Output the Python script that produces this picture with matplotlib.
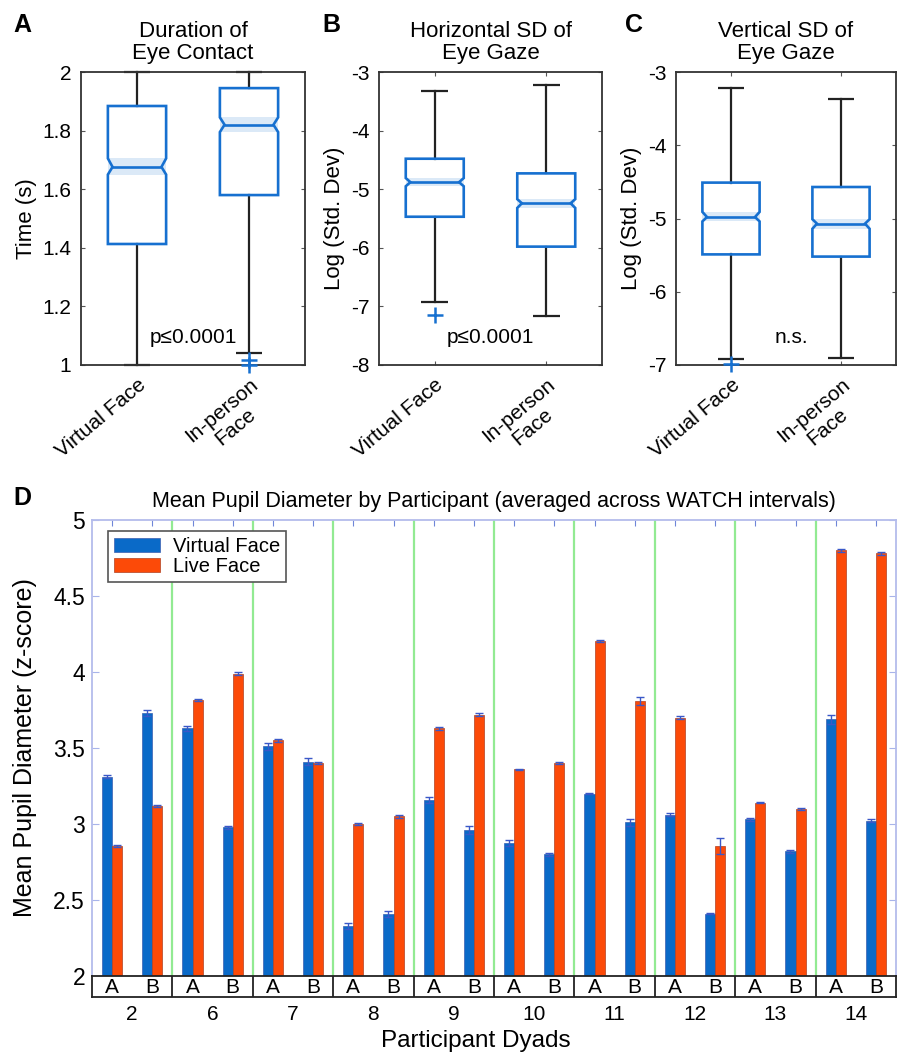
import matplotlib
matplotlib.use('Agg')
import matplotlib.pyplot as plt
from matplotlib.patches import Polygon, Rectangle

plt.rcParams['font.family'] = ['Liberation Sans', 'DejaVu Sans']
plt.rcParams['axes.unicode_minus'] = False

# ---------------- data ----------------
box_labels = ['Virtual Face', 'In-person\nFace']

# Panel A: duration of eye contact (s)
dur_whislo = [1.00, 1.04]
dur_q1 = [1.413, 1.58]
dur_med = [1.676, 1.82]
dur_q3 = [1.884, 1.945]
dur_whishi = [2.00, 2.00]
dur_cilo = [1.65, 1.795]
dur_cihi = [1.705, 1.845]
dur_fliers = [[], [1.0, 1.018]]

# Panel B: horizontal SD of eye gaze (log)
hsd_whislo = [-6.92, -7.16]
hsd_q1 = [-5.47, -5.98]
hsd_med = [-4.88, -5.24]
hsd_q3 = [-4.48, -4.73]
hsd_whishi = [-3.32, -3.22]
hsd_cilo = [-4.95, -5.32]
hsd_cihi = [-4.81, -5.17]
hsd_fliers = [[-7.15], []]

# Panel C: vertical SD of eye gaze (log)
vsd_whislo = [-6.92, -6.90]
vsd_q1 = [-5.49, -5.52]
vsd_med = [-4.98, -5.07]
vsd_q3 = [-4.51, -4.57]
vsd_whishi = [-3.22, -3.37]
vsd_cilo = [-5.04, -5.14]
vsd_cihi = [-4.91, -5.01]
vsd_fliers = [[-6.98], []]

# Panel D: mean pupil diameter
dyads = ['2', '6', '7', '8', '9', '10', '11', '12', '13', '14']
members = ['A', 'B']
virtual_mean = [3.31, 3.73, 3.63, 2.98, 3.51, 3.41, 2.33, 2.41, 3.16, 2.96,
                2.875, 2.80, 3.20, 3.01, 3.06, 2.41, 3.03, 2.82, 3.69, 3.02]
live_mean = [2.855, 3.12, 3.815, 3.99, 3.55, 3.40, 3.00, 3.05, 3.63, 3.72,
             3.36, 3.40, 4.205, 3.81, 3.70, 2.855, 3.14, 3.10, 4.80, 4.78]
virtual_err = [0.01, 0.02, 0.015, 0.01, 0.02, 0.025, 0.02, 0.02, 0.02, 0.025,
               0.02, 0.01, 0.005, 0.02, 0.01, 0.005, 0.01, 0.01, 0.03, 0.01]
live_err = [0.005, 0.005, 0.005, 0.01, 0.01, 0.005, 0.005, 0.01, 0.01, 0.01,
            0.005, 0.005, 0.005, 0.025, 0.01, 0.055, 0.005, 0.005, 0.01, 0.01]

# ---------------- style ----------------
BOX_BLUE = '#1670d0'
BAND = '#dbe9f7'
WHISK = '#222222'
BAR_BLUE = '#0a6ac8'
BAR_ORANGE = '#fc4a08'
GREEN = '#92ea92'
SPINE_D = '#b4bcec'

W, H = 899, 1053
fig = plt.figure(figsize=(W / 100, H / 100), dpi=100)


def px_axes(x0, y0, x1, y1):
    return fig.add_axes([x0 / W, 1 - y1 / H, (x1 - x0) / W, (y1 - y0) / H])


def notched_boxes(ax, whislo, q1, med, q3, whishi, cilo, cihi, fliers):
    width = 0.52
    hw = width / 2
    d = 0.08 * width
    cw = 0.12
    for i in range(len(med)):
        x = i + 1
        # light band around the median notch
        ax.add_patch(Rectangle((x - hw, cilo[i]), width, cihi[i] - cilo[i],
                               facecolor=BAND, edgecolor='none', zorder=1))
        # whiskers and caps
        ax.plot([x, x], [q3[i], whishi[i]], color=WHISK, lw=1.6, zorder=2,
                clip_on=False)
        ax.plot([x, x], [q1[i], whislo[i]], color=WHISK, lw=1.6, zorder=2,
                clip_on=False)
        ax.plot([x - cw, x + cw], [whishi[i], whishi[i]], color=WHISK, lw=1.6,
                zorder=2, clip_on=False, solid_capstyle='butt')
        ax.plot([x - cw, x + cw], [whislo[i], whislo[i]], color=WHISK, lw=1.6,
                zorder=2, clip_on=False, solid_capstyle='butt')
        pts = [(x - hw, q1[i]), (x - hw, cilo[i]), (x - hw + d, med[i]),
               (x - hw, cihi[i]), (x - hw, q3[i]), (x + hw, q3[i]),
               (x + hw, cihi[i]), (x + hw - d, med[i]), (x + hw, cilo[i]),
               (x + hw, q1[i])]
        ax.add_patch(Polygon(pts, closed=True, facecolor='none',
                             edgecolor=BOX_BLUE, lw=1.9, zorder=3))
        ax.plot([x - hw + d, x + hw - d], [med[i], med[i]], color=BOX_BLUE,
                lw=1.9, zorder=3)
        if fliers[i]:
            ax.plot([x] * len(fliers[i]), fliers[i], '+', color=BOX_BLUE,
                    ms=12, mew=1.8, zorder=4, clip_on=False)


def style_box_axes(ax, ylim, yticks, title, ylabel):
    ax.set_xlim(0.5, 2.5)
    ax.set_ylim(*ylim)
    ax.set_yticks(yticks)
    ax.set_yticklabels([('%g' % t) for t in yticks], fontsize=15)
    ax.set_xticks([1, 2])
    ax.set_xticklabels(box_labels, fontsize=15, rotation=40, ha='right',
                       rotation_mode='anchor', multialignment='center')
    ax.tick_params(axis='both', direction='in', length=3, width=0.8,
                   top=True, right=True, color='#555555', pad=7)
    for s in ax.spines.values():
        s.set_color('#333333')
        s.set_linewidth(1.3)
    ax.set_title(title, fontsize=16, pad=9, linespacing=1.1)
    ax.set_ylabel(ylabel, fontsize=16, labelpad=4)


# Panel A
axA = px_axes(81, 72, 305, 365)
notched_boxes(axA, dur_whislo, dur_q1, dur_med, dur_q3, dur_whishi,
              dur_cilo, dur_cihi, dur_fliers)
style_box_axes(axA, (1, 2), [1, 1.2, 1.4, 1.6, 1.8, 2],
               'Duration of\nEye Contact', 'Time (s)')
axA.text(1.5, 1.095, 'p≤0.0001', ha='center', va='center', fontsize=15)

# Panel B
axB = px_axes(379, 72, 602, 365)
notched_boxes(axB, hsd_whislo, hsd_q1, hsd_med, hsd_q3, hsd_whishi,
              hsd_cilo, hsd_cihi, hsd_fliers)
style_box_axes(axB, (-8, -3), [-8, -7, -6, -5, -4, -3],
               'Horizontal SD of\nEye Gaze', 'Log (Std. Dev)')
axB.text(1.5, -7.53, 'p≤0.0001', ha='center', va='center', fontsize=15)

# Panel C
axC = px_axes(676, 72, 896, 365)
notched_boxes(axC, vsd_whislo, vsd_q1, vsd_med, vsd_q3, vsd_whishi,
              vsd_cilo, vsd_cihi, vsd_fliers)
style_box_axes(axC, (-7, -3), [-7, -6, -5, -4, -3],
               'Vertical SD of\nEye Gaze', 'Log (Std. Dev)')
axC.text(1.55, -6.63, 'n.s.', ha='center', va='center', fontsize=15)

# Panel D
axD = px_axes(92, 520, 896, 976)
n = len(virtual_mean)
pos = list(range(n))
bw = 0.25
axD.bar([p - bw / 2 for p in pos], [v - 2 for v in virtual_mean], bottom=2,
        width=bw, color=BAR_BLUE, edgecolor='#3a5fb0', lw=0.5,
        label='Virtual Face', zorder=3)
axD.bar([p + bw / 2 for p in pos], [v - 2 for v in live_mean], bottom=2,
        width=bw, color=BAR_ORANGE, edgecolor='#b04020', lw=0.5,
        label='Live Face', zorder=3)
axD.errorbar([p - bw / 2 for p in pos], virtual_mean, yerr=virtual_err,
             fmt='none', ecolor='#3a58c8', elinewidth=1, capsize=3, zorder=4)
axD.errorbar([p + bw / 2 for p in pos], live_mean, yerr=live_err,
             fmt='none', ecolor='#3a58c8', elinewidth=1, capsize=3, zorder=4)
for b in range(1, len(dyads)):
    axD.axvline(2 * b - 0.5, color=GREEN, lw=1.6, zorder=1)
axD.set_xlim(-0.5, n - 0.5)
axD.set_ylim(2, 5)
axD.set_yticks([2, 2.5, 3, 3.5, 4, 4.5, 5])
axD.set_yticklabels(['2', '2.5', '3', '3.5', '4', '4.5', '5'], fontsize=16.5)
axD.set_xticks(pos)
axD.tick_params(axis='x', bottom=False, labelbottom=False, top=True,
                direction='in', length=4, color='#6f86d8')
axD.tick_params(axis='y', direction='in', length=5, right=True,
                color='#a8b4ea', pad=5)
for k, s in axD.spines.items():
    s.set_color(SPINE_D)
    s.set_linewidth(1.3)
axD.spines['bottom'].set_visible(False)
axD.set_title('Mean Pupil Diameter by Participant (averaged across WATCH intervals)',
              fontsize=15.5, pad=9)
axD.set_ylabel('Mean Pupil Diameter (z-score)', fontsize=18, labelpad=12)
leg = axD.legend(loc='upper left', bbox_to_anchor=(0.02, 0.975),
                 borderaxespad=0, fontsize=14.5, fancybox=False,
                 edgecolor='#555555', framealpha=1, handlelength=2.3,
                 handleheight=0.7, labelspacing=0.02, borderpad=0.3,
                 handletextpad=0.6)
leg.get_frame().set_linewidth(1.2)

# A/B member row and dyad labels
axAB = px_axes(92, 976, 896, 997)
axAB.set_xlim(-0.5, n - 0.5)
axAB.set_ylim(0, 1)
for i in range(n):
    axAB.text(i, 0.45, members[i % 2], ha='center', va='center', fontsize=15)
for b in range(1, len(dyads)):
    axAB.axvline(2 * b - 0.5, color='#222222', lw=1.3)
axAB.set_yticks([])
axAB.set_xticks([2 * j + 0.5 for j in range(len(dyads))])
axAB.set_xticklabels(dyads, fontsize=15)
axAB.tick_params(axis='x', length=0, pad=6)
for s in axAB.spines.values():
    s.set_color('#222222')
    s.set_linewidth(1.3)
axAB.set_xlabel('Participant Dyads', fontsize=17.5, labelpad=6)
axAB.xaxis.set_label_coords(0.478, -1.55)

# panel letters
for lbl, x, y in [('A', 13, 32), ('B', 322, 32), ('C', 625, 32), ('D', 13, 505)]:
    fig.text(x / W, 1 - y / H, lbl, fontsize=18, fontweight='bold',
             ha='left', va='baseline')

fig.savefig('out.png', dpi=100)
